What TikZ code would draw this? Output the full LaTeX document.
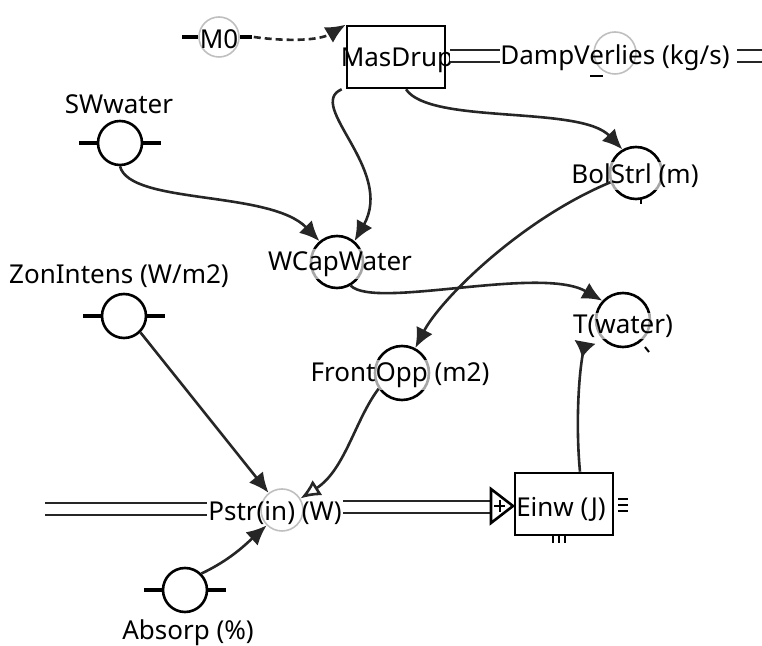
\documentclass[tikz,border=0pt]{standalone}
\usepackage{fontspec}
\setmainfont{Noto Sans}
\usetikzlibrary{arrows.meta}
\tikzset{
  txt/.style={font=\fontsize{13}{15}\selectfont, text=black, inner sep=1pt},
  txtbg/.style={txt, fill=white, fill opacity=0.65, text opacity=1},
  auxs/.style={circle, draw=black, line width=1.3pt, minimum size=22pt, inner sep=0pt},
  auxb/.style={circle, draw=black, line width=1.3pt, minimum size=27pt, inner sep=0pt},
  auxg/.style={circle, draw=black!25, line width=0.8pt, minimum size=21pt, inner sep=0pt},
  stub/.style={line width=2.4pt, black},
  link/.style={line width=1.3pt, black!85, -{Latex[length=10pt,width=9pt]}},
  dlink/.style={link, dashed, dash pattern=on 3.5pt off 2pt},
  flowl/.style={draw=black!85, line width=1.1pt, double=white, double distance=5pt},
  stockbox/.style={draw=black, line width=1.3pt, inner sep=0pt},
}
\begin{document}
\begin{tikzpicture}[x=0.5pt,y=-0.5pt]
\useasboundingbox (0,0) rectangle (762,646);

% ---- M0 ----
\node[auxg, minimum size=20pt] (m0c) at (219,37) {};
\draw[stub] (m0c.west) -- ++(-16,0);
\draw[stub] (m0c.east) -- ++(12,0);
\node[txt] (m0) at (219,39) {M0};

% ---- MasDrup stock ----
\node[stockbox, minimum width=49pt, minimum height=31pt] (mas) at (396,57) {};
\node[txt] (mast) at (397,60) {MasDrup};

% ---- DampVerlies flow ----
\coordinate (dv1) at (450,56);
\coordinate (dv2) at (500,56);
\coordinate (dv3) at (737,56);
\coordinate (dv4) at (762,56);
\draw[flowl] (dv1) -- (dv2);
\draw[flowl] (dv3) -- (dv4);
\node[auxg] (dvc) at (615,53) {};
\draw[line width=1.4pt] (590,76) -- (603,76);
\node[txt] (dv) at (615,58) {DampVerlies (kg/s)};

% ---- SWwater ----
\node[auxs] (swc) at (120,143) {};
\draw[stub] (swc.west) -- ++(-18,0);
\draw[stub] (swc.east) -- ++(18,0);
\node[txt] (sw) at (119,104) {SWwater};

% ---- ZonIntens ----
\node[auxs] (zonc) at (124,316) {};
\draw[stub] (zonc.west) -- ++(-18,0);
\draw[stub] (zonc.east) -- ++(18,0);
\node[txt] (zon) at (119,276) {ZonIntens (W/m2)};

% ---- Absorp ----
\node[auxs] (absc) at (185,590) {};
\draw[stub] (absc.west) -- ++(-18,0);
\draw[stub] (absc.east) -- ++(18,0);
\node[txt] (abs) at (188,633) {Absorp (\%)};

% ---- WCapWater ----
\node[auxb, minimum size=26pt] (wcapc) at (337,262) {};
\node[txtbg] (wcap) at (340,264) {WCapWater};

% ---- BolStrl ----
\node[auxb, minimum size=26pt] (bolc) at (636,173) {};
\draw[line width=1.1pt] (641,199) -- (641,204);
\node[txtbg] (bol) at (635,176) {BolStrl (m)};

% ---- T(water) ----
\node[auxb] (tc) at (623,320) {};
\draw[line width=1pt] (645,347) -- (649,352);
\node[txtbg] (tw) at (623,326) {T(water)};

% ---- FrontOpp ----
\node[auxb] (fc) at (402,373) {};
\node[txtbg] (fo) at (400,375) {FrontOpp (m2)};

% ---- Pstr flow ----
\coordinate (p1) at (45,509);
\coordinate (p2) at (207,509);
\coordinate (p3) at (343,507);
\coordinate (p4) at (490,507);
\draw[flowl] (p1) -- (p2);
\draw[flowl] (p3) -- (p4);
\node[auxg] (pstrc) at (282,510) {};
\node[txt] (pstr) at (275,513) {Pstr(in) (W)};

% ---- Einw stock ----
\node[stockbox, minimum width=49pt, minimum height=31pt] (einw) at (564,504) {};
\node[txt] (einwt) at (561,509) {Einw (J)};
\draw[line width=1.3pt, fill=white] (491,489) -- (513,506) -- (491,523) -- cycle;
\draw[line width=1pt] (494,506) -- (505,506) (499.5,500) -- (499.5,512);
\draw[line width=1.2pt] (618,499) -- (628,499) (618,505) -- (628,505) (618,511) -- (628,511);
\draw[line width=1.2pt] (553,536) -- (553,543) (559,536) -- (559,543) (565,536) -- (565,543);

% ---- connectors ----
\draw[dlink] ([xshift=7pt]m0c.east) .. controls (290,42) and (320,40) .. (mas.north west);
\draw[link] ([xshift=-2pt]mas.south west) .. controls (305,105) and (395,170) .. (wcapc.50);
\draw[link] ([xshift=5pt]mas.south) .. controls (430,125) and (580,105) .. (bolc.120);
\draw[link] (swc.south) .. controls (130,205) and (270,190) .. (wcapc.130);
\draw[link] (wcapc.-60) .. controls (375,310) and (540,265) .. (tc.137);
\draw[link] (bolc.200) .. controls (520,220) and (440,300) .. (fc.62);
\draw[link] (zonc.-45) -- (pstrc.128);
\draw[line width=1.3pt, black!85, -{Latex[length=10pt,width=9pt,fill=black!15,open]}] (fc.214) .. controls (355,420) and (345,470) .. (pstrc.32);
\draw[link] (absc.45) .. controls (230,560) and (245,545) .. (pstrc.225);
\draw[line width=1.3pt, black!85, -{Latex[reversed,length=8pt,width=11pt]}] ([xshift=8pt]einw.north) .. controls (576,430) and (578,380) .. ([shift={(-38,22)}]tc.center);

\end{tikzpicture}
\end{document}
